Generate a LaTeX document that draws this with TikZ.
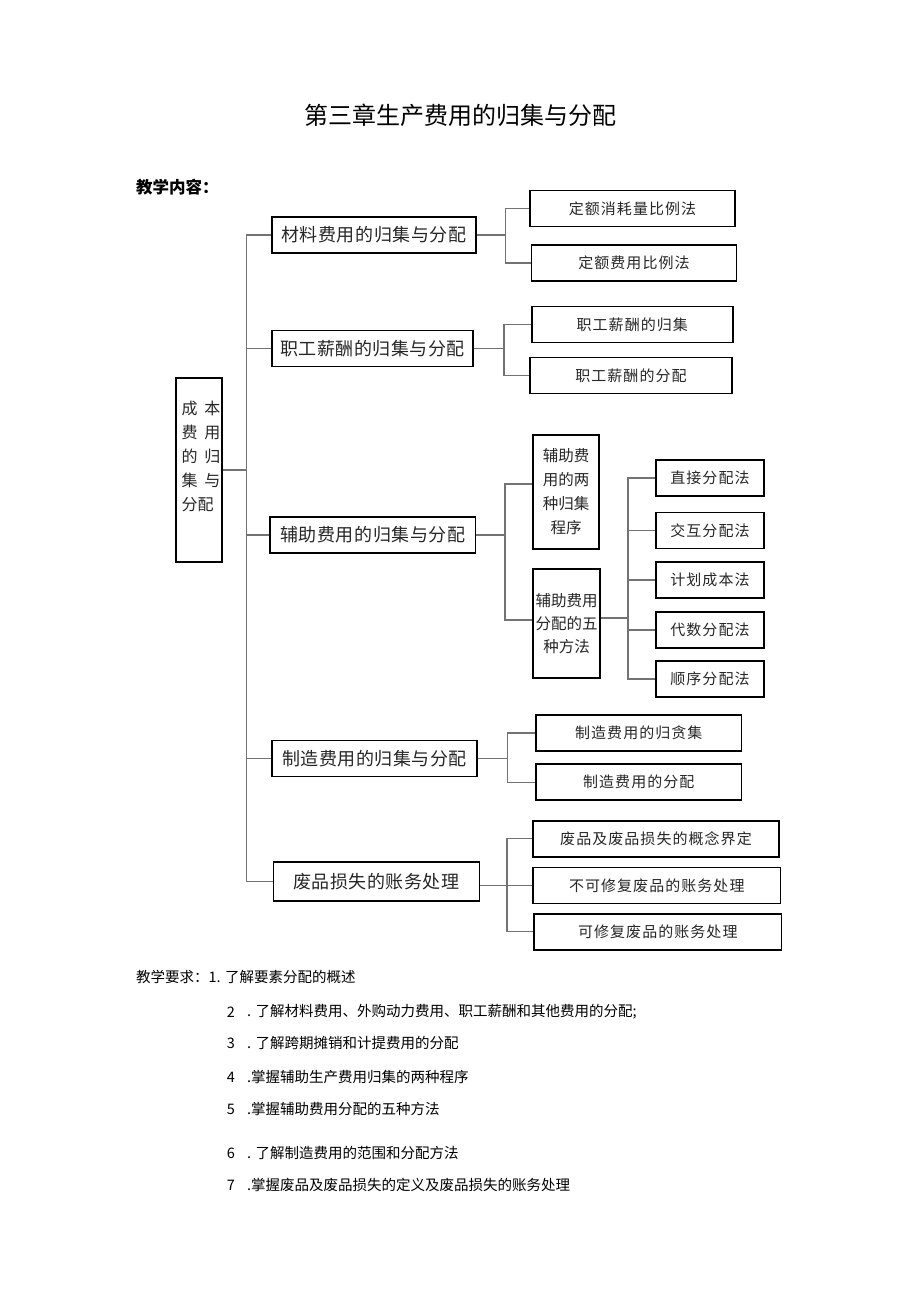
\documentclass[tikz,border=0pt]{standalone}
\usepackage{fontspec}
\setmainfont{Noto Sans CJK SC}
\newfontfamily\cjk{Noto Sans CJK SC}
\newfontfamily\cjkA[LetterSpace=3]{Noto Sans CJK SC}
\newfontfamily\cjkB[LetterSpace=7]{Noto Sans CJK SC}
\begin{document}
\begin{tikzpicture}[x=1pt,y=-1pt,
  box/.style={draw=black, line width=1.6pt, inner sep=0pt, text=black!85},
  conn/.style={draw=black!55, line width=1.3pt},
  lone/.style={box, minimum height=36pt, font=\cjkA\fontsize{18}{20}\selectfont},
  ltwo/.style={box, minimum height=36pt, font=\cjkB\fontsize{15}{18}\selectfont},
  lmeth/.style={box, minimum width=108pt, minimum height=36pt, font=\cjkB\fontsize{15}{18}\selectfont},
  plain/.style={inner sep=0pt, text=black},
]
\useasboundingbox (0,0) rectangle (920,1301);

% title and headings
\node[plain, font=\cjk\fontsize{24}{26}\selectfont] (title) at (460,115) {第三章生产费用的归集与分配};
\node[plain, anchor=west, font=\cjk\bfseries\fontsize{16.5}{18}\selectfont] (h1) at (136,187) {教学内容：};

% root
\node[box, minimum width=46pt, minimum height=184pt] (root) at (199,470) {};
\node[plain, text=black!85, font=\cjk\fontsize{16}{24}\selectfont] (roott) at (201,458)
  {\begin{tabular}{@{}l@{\hspace{7pt}}l@{}}成&本\\费&用\\的&归\\集&与\\\multicolumn{2}{@{}l@{}}{分配}\end{tabular}};

% level 1
\node[lone, minimum width=204pt] (m1) at (373.8,235) {材料费用的归集与分配};
\node[lone, minimum width=201pt] (m2) at (372.5,348.5) {职工薪酬的归集与分配};
\node[lone, minimum width=205.5pt] (m3) at (372.8,535) {辅助费用的归集与分配};
\node[lone, minimum width=205.5pt] (m4) at (374.5,758.3) {制造费用的归集与分配};
\node[lone, minimum width=206pt, minimum height=39pt] (m5) at (376.3,881.3) {废品损失的账务处理};

% trunk
\coordinate (tr) at (246.5,470);
\draw[conn] (root.east) -- (tr);
\draw[conn] (m1.west) -| (tr) |- (m5.west);
\draw[conn] (m2.west) -- (m2.west -| tr);
\draw[conn] (m3.west) -- (m3.west -| tr);
\draw[conn] (m4.west) -- (m4.west -| tr);

% material
\node[ltwo, minimum width=205pt] (c11) at (632.5,208.5) {定额消耗量比例法};
\node[ltwo, minimum width=205pt] (c12) at (634,263) {定额费用比例法};
\coordinate (b1) at (505.5,235);
\draw[conn] (m1.east) -- (m1.east -| b1);
\draw[conn] (c11.west) -| (b1) |- (c12.west);

% salary
\node[ltwo, minimum width=201pt] (c21) at (632.3,324.5) {职工薪酬的归集};
\node[ltwo, minimum width=201.5pt] (c22) at (631,375.5) {职工薪酬的分配};
\coordinate (b2) at (504,348.5);
\draw[conn] (m2.east) -- (m2.east -| b2);
\draw[conn] (c21.west) -| (b2) |- (c22.west);

% auxiliary
\node[box, minimum width=66pt, minimum height=114pt, align=center, font=\cjk\fontsize{15.5}{24}\selectfont] (a1) at (566,492) {辅助费\\用的两\\种归集\\程序};
\node[box, minimum width=67pt, minimum height=109pt, align=center, font=\cjk\fontsize{15.5}{23}\selectfont] (a2) at (566.5,623.5) {辅助费用\\分配的五\\种方法};
\coordinate (b3) at (505,535);
\draw[conn] (m3.east) -- (m3.east -| b3);
\draw[conn] ([yshift=8pt]a1.west) -| (b3) |- ([yshift=3.5pt]a2.west);

% methods
\node[lmeth] (p1) at (710,478) {直接分配法};
\node[lmeth] (p2) at (710,530.5) {交互分配法};
\node[lmeth] (p3) at (710,580) {计划成本法};
\node[lmeth] (p4) at (710,630) {代数分配法};
\node[lmeth] (p5) at (710,679) {顺序分配法};
\coordinate (q) at (628,618);
\draw[conn] ([yshift=5.5pt]a2.east) -- (q);
\draw[conn] (p1.west) -| (q) |- (p5.west);
\draw[conn] (p2.west) -- (p2.west -| q);
\draw[conn] (p3.west) -- (p3.west -| q);
\draw[conn] (p4.west) -- (p4.west -| q);

% manufacturing
\node[ltwo, minimum width=205.5pt] (c41) at (638.8,733) {制造费用的归贪集};
\node[ltwo, minimum width=205.5pt] (c42) at (638.8,782.2) {制造费用的分配};
\coordinate (b4) at (507.5,758.3);
\draw[conn] (m4.east) -- (m4.east -| b4);
\draw[conn] (c41.west) -| (b4) |- (c42.west);

% waste
\node[ltwo, minimum width=246.5pt] (c51) at (656,838.8) {废品及废品损失的概念界定};
\node[ltwo, minimum width=247.5pt] (c52) at (656.8,885.3) {不可修复废品的账务处理};
\node[ltwo, minimum width=247.5pt] (c53) at (657.8,931.7) {可修复废品的账务处理};
\coordinate (b5) at (507,885.3);
\draw[conn] (m5.east |- c52.west) -- (c52.west);
\draw[conn] (c51.west) -| (b5) |- (c53.west);

% requirements
\begin{scope}[every node/.style={plain, font=\cjk\fontsize{14.5}{16}\selectfont}]
\node[anchor=west] (r1) at (136,977) {教学要求：1. 了解要素分配的概述};
\node (n2) at (231,1012) {2};
\node[anchor=west] (r2) at (247,1012) {. 了解材料费用、外购动力费用、职工薪酬和其他费用的分配;};
\node (n3) at (231,1043) {3};
\node[anchor=west] (r3) at (247,1043) {. 了解跨期摊销和计提费用的分配};
\node (n4) at (231,1077) {4};
\node[anchor=west] (r4) at (247,1077) {.掌握辅助生产费用归集的两种程序};
\node (n5) at (231,1109) {5};
\node[anchor=west] (r5) at (247,1109) {.掌握辅助费用分配的五种方法};
\node (n6) at (231,1153) {6};
\node[anchor=west] (r6) at (247,1153) {. 了解制造费用的范围和分配方法};
\node (n7) at (231,1185) {7};
\node[anchor=west] (r7) at (247,1185) {.掌握废品及废品损失的定义及废品损失的账务处理};
\end{scope}
\end{tikzpicture}
\end{document}
